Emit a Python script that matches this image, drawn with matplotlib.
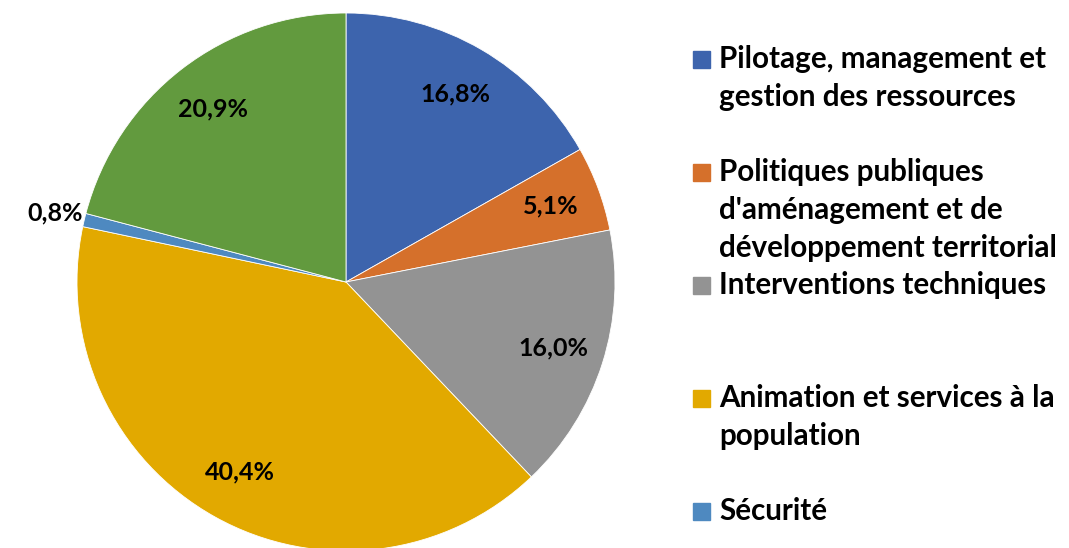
import numpy as np
import matplotlib.pyplot as plt
from matplotlib.patches import Rectangle

labels = ["Pilotage, management et\ngestion des ressources",
          "Politiques publiques\nd'aménagement et de\ndéveloppement territorial",
          "Interventions techniques",
          "Animation et services à la\npopulation",
          "Sécurité",
          ""]
values = [16.8, 5.1, 16.0, 40.4, 0.8, 20.9]
pct_text = ["16,8%", "5,1%", "16,0%", "40,4%", "0,8%", "20,9%"]
colors = ['#3d64ad', '#d5702b', '#939393', '#e2a900', '#4e89c0', '#629a3e']

plt.rcParams['font.family'] = ['Lato', 'DejaVu Sans']
W, H = 1069, 548
fig = plt.figure(figsize=(W / 100, H / 100), dpi=100)

# pie axes in pixel terms: centre (346, 282 from top), radius 269
cx, cy, r = 346, H - 282, 269
ax = fig.add_axes([(cx - r) / W, (cy - r) / H, 2 * r / W, 2 * r / H])
wedges, _ = ax.pie(values, colors=colors, startangle=90, counterclock=False,
                   radius=1, wedgeprops=dict(edgecolor='white', linewidth=0.6))
ax.set_xlim(-1, 1)
ax.set_ylim(-1, 1)
ax.set_aspect('equal')
ax.axis('off')

for w, t, v in zip(wedges, pct_text, values):
    ang = np.deg2rad((w.theta1 + w.theta2) / 2)
    d = 1.11 if v < 2 else 0.81
    ax.text(d * np.cos(ang), d * np.sin(ang), t, ha='center', va='center',
            fontsize=18, fontweight='bold', color='black')

# legend drawn by hand to keep the line layout of the original
entry_y = [59, 172, 285, 398, 511]
line_h = 38
for y, lab, c in zip(entry_y, labels[:5], colors[:5]):
    fig.patches.append(Rectangle((693 / W, (H - y - 9) / H), 17 / W, 17 / H,
                                 transform=fig.transFigure, color=c))
    for j, line in enumerate(lab.split('\n')):
        fig.text(719 / W, (H - y - j * line_h) / H, line, ha='left', va='center',
                 fontsize=21.3, fontweight='bold', color='black')

fig.savefig('out.png', dpi=100)
